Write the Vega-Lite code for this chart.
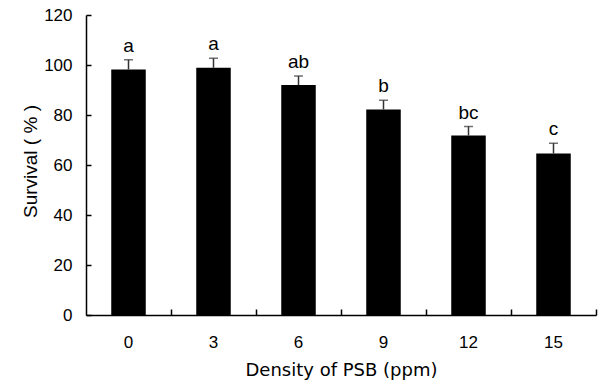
{
  "$schema": "https://vega.github.io/schema/vega-lite/v6.json",
  "autosize": {"type": "none"},
  "padding": {"left": 86, "top": 15, "right": 2, "bottom": 67},
  "width": 510,
  "height": 300,
  "background": "white",
  "config": {"view": {"stroke": null}},
  "data": {"values": [
    {"density": "0", "survival": 98.2, "upper": 102.1, "group": "a"},
    {"density": "3", "survival": 98.9, "upper": 102.7, "group": "a"},
    {"density": "6", "survival": 92.0, "upper": 95.6, "group": "ab"},
    {"density": "9", "survival": 82.2, "upper": 85.9, "group": "b"},
    {"density": "12", "survival": 71.8, "upper": 75.4, "group": "bc"},
    {"density": "15", "survival": 64.6, "upper": 68.7, "group": "c"}
  ]},
  "resolve": {"axis": {"x": "independent"}},
  "layer": [
    {
      "mark": {"type": "bar", "color": "black"},
      "encoding": {
        "x": {"field": "density", "type": "ordinal", "sort": null,
          "scale": {"paddingInner": 0.594, "paddingOuter": 0.297},
          "axis": {"orient": "bottom", "title": "Density of PSB (ppm)", "labelAngle": 0,
            "ticks": false, "domain": true, "domainColor": "black", "domainWidth": 1.5,
            "labelFont": "Liberation Sans", "labelFontSize": 17, "labelColor": "black", "labelPadding": 19,
            "titleFont": "DejaVu Sans", "titleFontSize": 18, "titleFontWeight": "normal", "titleColor": "black",
            "titleBaseline": "alphabetic", "titleY": 60}},
        "y": {"field": "survival", "type": "quantitative",
          "scale": {"domain": [0, 120], "nice": false},
          "axis": {"title": "Survival ( % )", "values": [0, 20, 40, 60, 80, 100, 120], "grid": false,
            "domainColor": "black", "domainWidth": 1.5, "tickColor": "black", "tickWidth": 1.5, "tickSize": -5,
            "labelFont": "Liberation Sans", "labelFontSize": 17, "labelColor": "black", "labelPadding": 19,
            "titleFont": "Liberation Sans", "titleFontSize": 19, "titleFontWeight": "normal", "titleColor": "black",
            "titleX": -50, "titleY": 146, "titleBaseline": "alphabetic", "titleAlign": "center"}}
      }
    },
    {
      "mark": {"type": "rule", "color": "#333333", "strokeWidth": 1.5},
      "encoding": {
        "x": {"field": "density", "type": "ordinal", "sort": null,
          "axis": {"orient": "bottom", "title": null, "labels": false, "domain": false,
            "ticks": true, "tickColor": "black", "tickWidth": 1.5, "tickSize": -6, "bandPosition": 1.732}},
        "y": {"field": "survival", "type": "quantitative"},
        "y2": {"field": "upper"}
      }
    },
    {
      "mark": {"type": "tick", "color": "#333333", "thickness": 1.5, "size": 9},
      "encoding": {
        "x": {"field": "density", "type": "ordinal", "sort": null, "axis": null},
        "y": {"field": "upper", "type": "quantitative"}
      }
    },
    {
      "mark": {"type": "text", "font": "Liberation Sans", "fontSize": 19, "color": "black", "baseline": "alphabetic", "dy": -8},
      "encoding": {
        "x": {"field": "density", "type": "ordinal", "sort": null, "axis": null},
        "y": {"field": "upper", "type": "quantitative"},
        "text": {"field": "group"}
      }
    }
  ]
}
